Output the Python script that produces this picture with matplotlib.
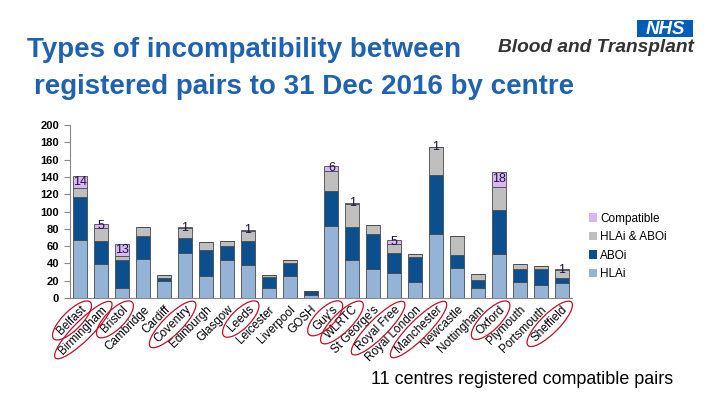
import matplotlib
matplotlib.use('Agg')
import matplotlib.pyplot as plt
import numpy as np
from matplotlib.patches import Ellipse, Rectangle
from matplotlib.transforms import IdentityTransform

centres = ['Belfast', 'Birmingham', 'Bristol', 'Cambridge', 'Cardiff', 'Coventry',
           'Edinburgh', 'Glasgow', 'Leeds', 'Leicester', 'Liverpool', 'GOSH',
           "Guy's", 'WLRTC', "St George's", 'Royal Free', 'Royal London',
           'Manchester', 'Newcastle', 'Nottingham', 'Oxford', 'Plymouth',
           'Portsmouth', 'Sheffield']
hlai = [67, 39, 11, 45, 20, 52, 26, 44, 38, 11, 26, 3, 83, 44, 33, 29, 19, 74, 35, 12, 51, 18, 15, 17]
aboi = [50, 27, 33, 27, 3, 17, 29, 16, 28, 13, 14, 5, 41, 38, 41, 23, 28, 68, 15, 9, 51, 16, 18, 6]
both = [10, 15, 5, 10, 4, 12, 10, 6, 12, 3, 4, 0, 23, 27, 10, 10, 4, 32, 22, 7, 26, 5, 4, 9]
compat = [14, 5, 13, 0, 0, 1, 0, 0, 1, 0, 0, 0, 6, 1, 0, 5, 0, 1, 0, 0, 18, 0, 0, 1]
yticks = list(range(0, 201, 20))

c_hlai = '#95B3D7'
c_aboi = '#0B4F8E'
c_both = '#BFBFBF'
c_comp = '#D9B8F2'

plt.rcParams['font.family'] = ['Liberation Sans', 'DejaVu Sans']

fig = plt.figure(figsize=(7.2, 4.05), dpi=100)
ax = fig.add_axes([70/720, 1-298/405, 502/720, 173/405])

x = np.arange(len(centres))
w = 0.67
ek = dict(edgecolor='#4a4a4a', linewidth=0.6, width=w)
h = np.array(hlai); a = np.array(aboi); b = np.array(both); c = np.array(compat)
ax.bar(x, h, color=c_hlai, label='HLAi', **ek)
ax.bar(x, a, bottom=h, color=c_aboi, label='ABOi', **ek)
ax.bar(x, b, bottom=h+a, color=c_both, label='HLAi & ABOi', **ek)
ax.bar(x, c, bottom=h+a+b, color=c_comp, label='Compatible', **ek)

for i in range(len(x)):
    if c[i] > 0:
        ax.text(x[i], h[i]+a[i]+b[i]+c[i]/2, str(c[i]), ha='center', va='center',
                fontsize=9, color='#1a1440')

ax.set_xlim(-0.5, len(centres)-0.5)
ax.set_ylim(0, 200)
ax.set_yticks(yticks)
ax.set_yticklabels([str(v) for v in yticks], fontsize=8, fontweight='bold')
ax.set_xticks(x)
ax.set_xticklabels(centres, rotation=45, ha='right', rotation_mode='anchor', fontsize=8.5)
ax.tick_params(axis='x', length=0, pad=4)
ax.tick_params(axis='y', length=4, color='#888888', pad=4)
for s in ['top', 'right']:
    ax.spines[s].set_visible(False)
for s in ['left', 'bottom']:
    ax.spines[s].set_color('#888888')
    ax.spines[s].set_linewidth(0.8)

handles, labels = ax.get_legend_handles_labels()
leg = fig.legend(handles[::-1], labels[::-1], loc='upper left',
                 bbox_to_anchor=(578/720, 1-202/405), frameon=False, fontsize=8.5,
                 handlelength=0.7, handleheight=0.7, handletextpad=0.3, labelspacing=0.55)
for p in leg.get_patches():
    p.set_linewidth(0)

# Title
tc = '#1F62B0'
fig.text(27/720, 1-50/405, 'Types of incompatibility between', fontsize=20,
         fontweight='bold', color=tc, va='center', ha='left')
fig.text(34/720, 1-87/405, 'registered pairs to 31 Dec 2016 by centre', fontsize=20,
         fontweight='bold', color=tc, va='center', ha='left')

# Logo
fig.patches.append(Rectangle((637/720, 1-37/405), 56/720, 17/405, transform=fig.transFigure,
                             facecolor='#005EB8', edgecolor='none'))
fig.text(665/720, 1-29/405, 'NHS', fontsize=13.5, fontweight='bold', fontstyle='italic',
         color='white', ha='center', va='center')
fig.text(694/720, 1-47.5/405, 'Blood and Transplant', fontsize=13.8, fontweight='bold',
         fontstyle='italic', color='#333333', ha='right', va='center')

fig.text(673/720, 1-380/405, '11 centres registered compatible pairs', fontsize=12.9,
         color='black', ha='right', va='center')

# red ellipses around centres with compatible pairs
fig.canvas.draw()
r = fig.canvas.get_renderer()
tls = ax.get_xticklabels()
for i, t in enumerate(tls):
    if compat[i] > 0:
        bb = t.get_window_extent(r)
        cx, cy = (bb.x0+bb.x1)/2, (bb.y0+bb.y1)/2
        th = 12
        L = bb.width*np.sqrt(2) - th
        e = Ellipse((cx, cy), L+16, 19, angle=45, transform=IdentityTransform(),
                    facecolor='none', edgecolor='#C0102A', linewidth=0.9)
        fig.patches.append(e)

fig.savefig('out.png', dpi=100)
